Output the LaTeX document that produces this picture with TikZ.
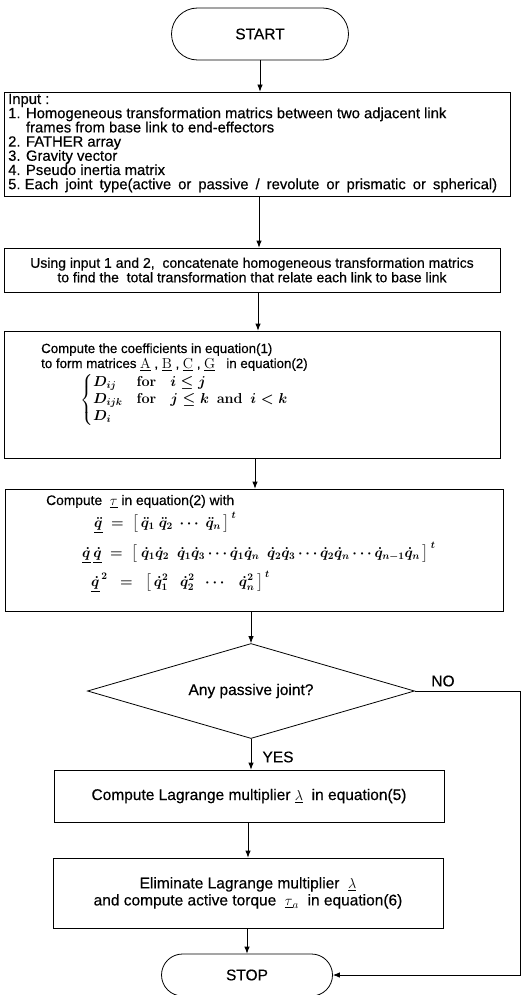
\documentclass[tikz,border=0pt]{standalone}
\usepackage{amsmath}
\usepackage[no-math]{fontspec}
\setmainfont{Liberation Sans}[FakeBold=0.4]
\usetikzlibrary{shapes.geometric,shapes.misc,arrows.meta}
\newcommand\fIn{\fontsize{14.8}{14.2}\selectfont}
\newcommand\fTw{\fontsize{14}{14.5}\selectfont}
\newcommand\fTh{\fontsize{13.3}{14}\selectfont}
\newcommand\fFo{\fontsize{13.8}{14}\selectfont}
\newcommand\fMa{\fontsize{14}{14}\selectfont\boldmath}
\newcommand\fLo{\fontsize{15.5}{17}\selectfont}
\begin{document}
\begin{tikzpicture}[x=1pt,y=-1pt,
  every node/.style={inner sep=0pt},
  frame/.style={draw,line width=0.8pt,rectangle},
  pill/.style={draw,line width=0.8pt,rounded rectangle,font=\fLo},
  inl/.style={anchor=base west,font=\fIn},
  arr/.style={line width=0.8pt,-{Latex[length=7pt,width=5.5pt]}},
  lin/.style={line width=0.8pt}]
\useasboundingbox (0,0) rectangle (527,995);
% terminals
\node[pill,minimum width=177pt,minimum height=52pt] (start) at (260,34) {START};
\node[pill,minimum width=171pt,minimum height=42pt] (stop) at (247,975) {STOP};
% boxes
\node[frame,minimum width=506pt,minimum height=104pt] (in) at (257,144) {};
\node[frame,minimum width=496pt,minimum height=44pt] (b2) at (252,270) {};
\node[frame,minimum width=496pt,minimum height=127pt] (b3) at (252,394.5) {};
\node[frame,minimum width=498pt,minimum height=122pt] (b4) at (254,550) {};
\node[draw,line width=0.8pt,diamond,aspect=3.44,minimum width=327pt,minimum height=95pt,font=\fLo] (dec) at (251,691) {Any passive joint?};
\node[frame,minimum width=390pt,minimum height=52pt] (b5) at (249,796) {};
\node[frame,minimum width=390pt,minimum height=70pt] (b6) at (248,893) {};
% input texts
\node[inl] (in1) at (8,104) {Input :};
\node[inl] (in2) at (8,118.2) {1. Homogeneous transformation matrics between two adjacent link};
\node[inl] (in3) at (8,132.4) {\phantom{1. }frames from base link to end-effectors};
\node[inl] (in4) at (8,146.6) {2. FATHER array};
\node[inl] (in5) at (8,160.8) {3. Gravity vector};
\node[inl] (in6) at (8,175) {4. Pseudo inertia matrix};
\node[inl] (in7) at (8,189.2) {\hbox to 489pt{5.\hspace{0.28em}Each joint type(active or passive / revolute or prismatic or spherical)}};
% box 2
\node[align=center,font=\fTw] (t2) at (252,270) {Using input 1 and 2,~ concatenate homogeneous transformation matrics\\
to find the~ total transformation that relate each link to base link};
% box 3
\node[anchor=base west,font=\fTh] (t3a) at (41,353) {Compute the coefficients in equation(1)};
\node[anchor=base west,font=\fTh] (t3b) at (41,368) {to form matrices $\underline{\mathrm{A}}$ , $\underline{\mathrm{B}}$ , $\underline{\mathrm{C}}$ , $\underline{\mathrm{G}}$ ~ in equation(2)};
\node[anchor=west,font=\fMa] (t3c) at (80,400) {$\begin{cases} D_{ij} & \mathrm{for}\quad i\le j\\ D_{ijk} & \mathrm{for}\quad j\le k\ \ \mathrm{and}\ \ i<k\\ D_i \end{cases}$};
% box 4
\node[anchor=base west,font=\fFo] (t4a) at (46,505) {Compute ~$\underline{\tau}$ in equation(2) with};
\node[anchor=base west,font=\fMa] (t4b) at (94,527) {$\underline{\ddot q}\ =\ \bigl[\,\ddot q_1\ \ddot q_2\ \cdots\ \ddot q_n\,\bigr]^{\,t}$};
\node[anchor=base west,font=\fMa] (t4c) at (82,557) {$\underline{\dot q}\,\underline{\dot q}\ =\ \bigl[\ \dot q_1\dot q_2\ \ \dot q_1\dot q_3\cdots\dot q_1\dot q_n\ \ \dot q_2\dot q_3\cdots\dot q_2\dot q_n\cdots\dot q_{n-1}\dot q_n\,\bigr]^{\,t}$};
\node[anchor=base west,font=\fMa] (t4d) at (91,586) {$\underline{\dot q}^{\,2}\ \ =\ \ \bigl[\,\dot q_1^2\ \ \ \dot q_2^2\ \ \cdots\ \ \ \dot q_n^2\,\bigr]^{\,t}$};
% boxes 5, 6
\node[font=\fLo] (t5) at (249,796) {Compute Lagrange multiplier $\underline{\lambda}$ ~in equation(5)};
\node[align=center,font=\fLo] (t6) at (248,893) {Eliminate Lagrange multiplier ~$\underline{\lambda}$\\
and compute active torque ~$\underline{\tau}_a$ ~in equation(6)};
\node[font=\fLo] (no) at (443,681) {NO};
\node[font=\fLo] (yes) at (278,757) {YES};
% connectors
\coordinate (x2) at (259,0);
\coordinate (x3) at (258,0);
\coordinate (x4) at (255,0);
\coordinate (x5) at (251,0);
\coordinate (x7) at (248,0);
\coordinate (x8) at (247,0);
\draw[arr] (start.south) -- (start.south |- in.north);
\draw[arr] (in.south -| x2) -- (b2.north -| x2);
\draw[arr] (b2.south -| x3) -- (b3.north -| x3);
\draw[arr] (b3.south -| x4) -- (b4.north -| x4);
\draw[arr] (b4.south -| x5) -- (dec.north);
\draw[arr] (dec.south) -- (dec.south |- b5.north);
\draw[arr] (b5.south -| x7) -- (b6.north -| x7);
\draw[arr] (b6.south -| x8) -- (stop.north);
\coordinate (rc) at (520,691);
\draw[arr] (dec.east) -- (rc) |- (stop.east);
\end{tikzpicture}
\end{document}
